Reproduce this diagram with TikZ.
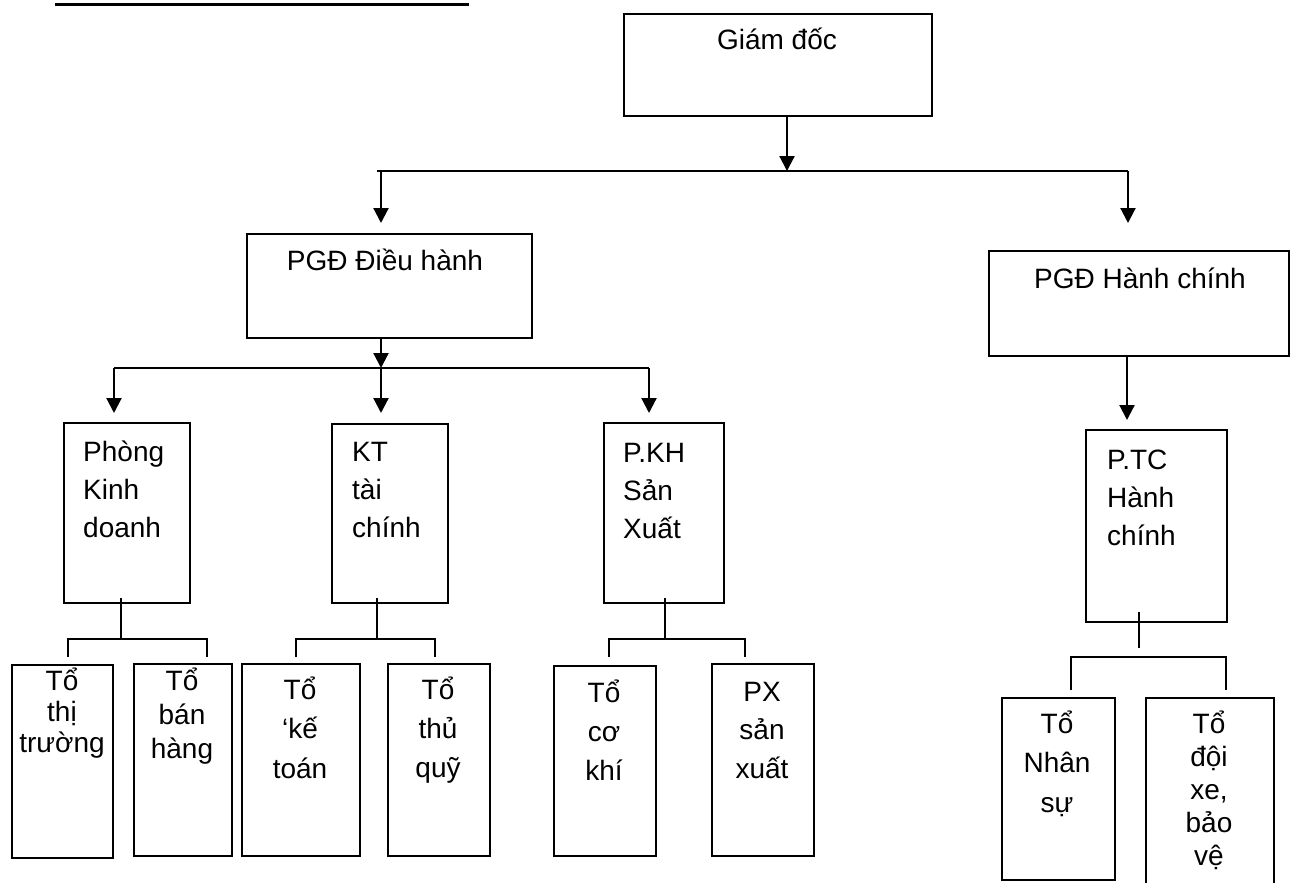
\documentclass[tikz,border=0pt]{standalone}
\usepackage{fontspec}
\setmainfont{Liberation Sans}
\usetikzlibrary{arrows.meta}
\newcommand\bx[5]{\node[boxst, anchor=north west, minimum width={(#4-#2)*1pt}, minimum height={(#5-#3)*1pt}] (#1) at (#2,#3) {};}
\begin{document}
\begin{tikzpicture}[x=1pt,y=-1pt,
  boxst/.style={draw, line width=2pt, inner sep=0pt, fill=none},
  lbl/.style={inner sep=0pt, font=\fontsize{28}{38}\selectfont},
  conn/.style={line width=2.2pt},
  arr/.style={line width=2.2pt, -{Triangle[width=15pt,length=15pt]}}]
\useasboundingbox (0,0) rectangle (1290,883);
% underline at top-left
\coordinate (ulA) at (55,5); \coordinate (ulB) at (469,5);
\draw[line width=3pt] (ulA) -- (ulB);
% boxes
\bx{gd}{623}{13}{931}{115}
\bx{dh}{246}{233}{531}{337}
\bx{hc}{988}{250}{1288}{355}
\bx{kd}{63}{422}{189}{602}
\bx{kt}{331}{423}{447}{602}
\bx{kh}{603}{422}{723}{602}
\bx{tc}{1085}{429}{1226}{621}
\bx{tt}{11}{664}{112}{857}
\bx{bh}{133}{663}{231}{855}
\bx{ke}{241}{663}{359}{855}
\bx{tq}{387}{663}{489}{855}
\bx{ck}{553}{665}{655}{855}
\bx{px}{711}{663}{813}{855}
\bx{ns}{1001}{697}{1114}{879}
\bx{dx}{1145}{697}{1273}{905}
% texts (anchor base = baseline of last line)
\node[lbl, anchor=base] (tgd) at (777,50) {Giám đốc};
\node[lbl, anchor=base] (tdh) at (385,270) {PGĐ Điều hành};
\node[lbl, anchor=base] (thc) at (1140,288) {PGĐ Hành chính};
\node[lbl, anchor=base west, align=left] (tkd) at (83,537) {Phòng\\Kinh\\doanh};
\node[lbl, anchor=base west, align=left] (tkt) at (352,537) {KT\\tài\\chính};
\node[lbl, anchor=base west, align=left] (tkh) at (623,538) {P.KH\\Sản\\Xuất};
\node[lbl, anchor=base west, align=left] (ttc) at (1107,545) {P.TC\\Hành\\chính};
\node[lbl, anchor=base, align=center, font=\fontsize{28}{31}\selectfont] (ttt) at (62,752) {Tổ\\thị\\trường};
\node[lbl, anchor=base, align=center, font=\fontsize{28}{34}\selectfont] (tbh) at (182,758) {Tổ\\bán\\hàng};
\node[lbl, anchor=base, align=center, font=\fontsize{28}{39.5}\selectfont] (tke) at (300,778) {Tổ\\‘kế\\toán};
\node[lbl, anchor=base, align=center, font=\fontsize{28}{39}\selectfont] (ttq) at (438,777) {Tổ\\thủ\\quỹ};
\node[lbl, anchor=base, align=center, font=\fontsize{28}{39}\selectfont] (tck) at (604,780) {Tổ\\cơ\\khí};
\node[lbl, anchor=base, align=center, font=\fontsize{28}{38.5}\selectfont] (tpx) at (762,778) {PX\\sản\\xuất};
\node[lbl, anchor=base, align=center, font=\fontsize{28}{39.5}\selectfont] (tns) at (1057,812) {Tổ\\Nhân\\sự};
\node[lbl, anchor=base, align=center, font=\fontsize{28}{33}\selectfont] (tdx) at (1209,865) {Tổ\\đội\\xe,\\bảo\\vệ};
% top level connectors
\coordinate (g0) at (787,115); \coordinate (g1) at (787,171);
\coordinate (b1) at (377,171); \coordinate (b2) at (1128,171);
\coordinate (bl) at (381,171); \coordinate (blt) at (381,223);
\coordinate (brt) at (1128,223);
\draw[arr] (g0) -- (g1);
\draw[conn] (b1) -- (b2);
\draw[arr] (bl) -- (blt);
\draw[arr] (b2) -- (brt);
% PGD DH to three
\coordinate (d0) at (381,337); \coordinate (d1) at (381,368);
\coordinate (h1) at (114,368); \coordinate (h2) at (649,368);
\coordinate (a1) at (114,413); \coordinate (a2) at (381,413); \coordinate (a3) at (649,413);
\draw[arr] (d0) -- (d1);
\draw[conn] (h1) -- (h2);
\draw[arr] (h1) -- (a1);
\draw[arr] (d1) -- (a2);
\draw[arr] (h2) -- (a3);
% PGD HC to PTC
\coordinate (c0) at (1127,355); \coordinate (c1) at (1127,420);
\draw[arr] (c0) -- (c1);
% sub connectors
\foreach \nm/\cx/\l/\r in {kd/121/68/207, kt/377/296/435, kh/665/609/745}{
  \coordinate (\nm v0) at (\cx,598); \coordinate (\nm v1) at (\cx,639);
  \coordinate (\nm L) at (\l,639); \coordinate (\nm R) at (\r,639);
  \coordinate (\nm Ld) at (\l,657); \coordinate (\nm Rd) at (\r,657);
  \draw[conn] (\nm v0) -- (\nm v1);
  \draw[conn] (\nm Ld) -- (\nm L) -- (\nm R) -- (\nm Rd);
}
\coordinate (tv0) at (1139,612); \coordinate (tv1) at (1139,648);
\coordinate (tL) at (1071,657); \coordinate (tR) at (1226,657);
\coordinate (tLd) at (1071,690); \coordinate (tRd) at (1226,690);
\draw[line width=1.6pt] (tv0) -- (tv1);
\draw[line width=1.6pt] (tLd) -- (tL) -- (tR) -- (tRd);
\end{tikzpicture}
\end{document}
